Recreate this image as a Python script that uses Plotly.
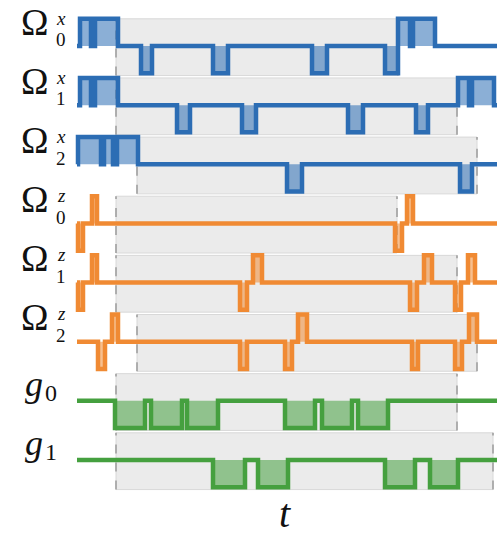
import plotly.graph_objects as go

# ---------------- data ----------------
row_symbol = ["Ω", "Ω", "Ω", "Ω", "Ω", "Ω", "g", "g"]
row_sup = ["x", "x", "x", "z", "z", "z", "", ""]
row_sub = ["0", "1", "2", "0", "1", "2", "0", "1"]
row_kind = ["x", "x", "x", "z", "z", "z", "g", "g"]

t_start = 77
t_stop = 497

# pulses per channel: (start, end, direction)  +1 = up, -1 = down
omega0x = [(80, 91, 1), (95, 118, 1), (141, 152, -1), (213, 228, -1), (312, 327, -1),
           (385, 398, -1), (398, 410, 1), (413, 435, 1)]
omega1x = [(80, 91, 1), (95, 118, 1), (177, 190, -1), (242, 256, -1), (348, 363, -1),
           (416, 428, -1), (458, 469, 1), (472, 494, 1)]
omega2x = [(78, 101, 1), (104, 113, 1), (117, 138, 1), (287, 302, -1), (460, 472, -1)]
omega0z = [(78, 83, -1), (92, 97, 1), (395, 402, -1), (407, 413, 1)]
omega1z = [(78, 83, -1), (92, 97, 1), (240, 247, -1), (253, 262, 1), (410, 417, -1),
           (424, 432, 1), (455, 461, -1), (468, 475, 1)]
omega2z = [(98, 105, -1), (112, 118, 1), (240, 247, -1), (285, 292, -1), (298, 307, 1),
           (412, 418, -1), (455, 462, -1), (469, 477, 1)]
g0 = [(115, 145, -1), (151, 182, -1), (187, 218, -1), (285, 315, -1), (322, 352, -1),
      (358, 388, -1)]
g1 = [(213, 245, -1), (258, 288, -1), (385, 415, -1), (430, 458, -1)]

channels = [omega0x, omega1x, omega2x, omega0z, omega1z, omega2z, g0, g1]

# shaded evolution windows (start, stop) per channel
window_start = [116, 116, 137, 116, 116, 137, 116, 116]
window_stop = [398, 457, 477, 397, 457, 477, 457, 493]

# ---------------- style ----------------
line_col = {"x": "#2c6db4", "z": "#f08a33", "g": "#45a03f"}
fill_col = {"x": "rgba(44,109,180,0.55)", "z": "rgba(240,138,51,0.55)",
            "g": "rgba(69,160,63,0.55)"}
amp = 0.46
win_top = 0.46
win_bot = 0.50
serif = "Liberation Serif"
txt = "#111111"

fig = go.Figure()
shapes = []

for i, pulses in enumerate(channels):
    base = -i
    shapes.append(dict(type="rect", xref="x", yref="y", layer="below",
                       x0=window_start[i], x1=window_stop[i],
                       y0=base - win_bot, y1=base + win_top,
                       fillcolor="#ebebeb", line=dict(color="#d8d8d8", width=1)))
for i, pulses in enumerate(channels):
    base = -i
    for xv in (window_start[i], window_stop[i]):
        shapes.append(dict(type="line", xref="x", yref="y", layer="below",
                           x0=xv, x1=xv, y0=base - win_bot, y1=base + win_top,
                           line=dict(color="#a0a0a0", width=1.6, dash="dash")))

for i, pulses in enumerate(channels):
    base = -i
    k = row_kind[i]
    fx, fy = [], []
    for s, e, d in pulses:
        top = base + d * amp
        fx += [s, s, e, e, s, None]
        fy += [base, top, top, base, base, None]
    fig.add_trace(go.Scatter(x=fx, y=fy, mode="lines", fill="toself",
                             fillcolor=fill_col[k], line=dict(width=0),
                             hoverinfo="skip", showlegend=False))
    xs, ys = [t_start], [base]
    for s, e, d in pulses:
        top = base + d * amp
        xs += [s, s, e, e]
        ys += [base, top, top, base]
    xs.append(t_stop)
    ys.append(base)
    fig.add_trace(go.Scatter(x=xs, y=ys, mode="lines",
                             line=dict(color=line_col[k], width=4.5),
                             hoverinfo="skip", showlegend=False))

annotations = []
for i in range(len(channels)):
    base = -i
    if row_symbol[i] == "Ω":
        annotations.append(dict(x=35, y=base + 0.405, xref="x", yref="y",
                                text="Ω", showarrow=False, xanchor="center", yanchor="middle",
                                borderpad=0,
                                font=dict(family=serif, size=37, color=txt)))
        annotations.append(dict(x=61, y=base + 0.47, xref="x", yref="y",
                                text="<i>%s</i>" % row_sup[i],
                                showarrow=False, xanchor="center", yanchor="middle",
                                borderpad=0,
                                font=dict(family=serif, size=19, color=txt)))
        annotations.append(dict(x=60.5, y=base + 0.105, xref="x", yref="y",
                                text=row_sub[i],
                                showarrow=False, xanchor="center", yanchor="middle",
                                borderpad=0,
                                font=dict(family=serif, size=19, color=txt)))
    else:
        annotations.append(dict(x=34, y=base + 0.28, xref="x", yref="y",
                                text="<i>g</i>", showarrow=False, xanchor="center",
                                yanchor="middle",
                                font=dict(family=serif, size=36, color=txt)))
        annotations.append(dict(x=51, y=base + 0.14, xref="x", yref="y",
                                text=row_sub[i], showarrow=False,
                                xanchor="center", yanchor="middle",
                                font=dict(family=serif, size=24, color=txt)))

px_per_row = 59.14
y_bottom = -7 - 77 / px_per_row
annotations.append(dict(x=285, y=y_bottom, xref="x", yref="y", text="<i>t</i>",
                        showarrow=False, xanchor="center", yanchor="bottom",
                        borderpad=0,
                        font=dict(family=serif, size=40, color=txt)))

fig.update_layout(
    width=497, height=537,
    margin=dict(l=0, r=0, t=0, b=0),
    paper_bgcolor="white", plot_bgcolor="white",
    shapes=shapes, annotations=annotations,
    xaxis=dict(range=[0, 497], visible=False, fixedrange=True),
    yaxis=dict(range=[y_bottom, 46 / px_per_row], visible=False, fixedrange=True),
)

fig.write_html("out.html", config={"displayModeBar": False},
               post_script="document.body.style.margin='0';document.body.style.overflow='hidden';")
